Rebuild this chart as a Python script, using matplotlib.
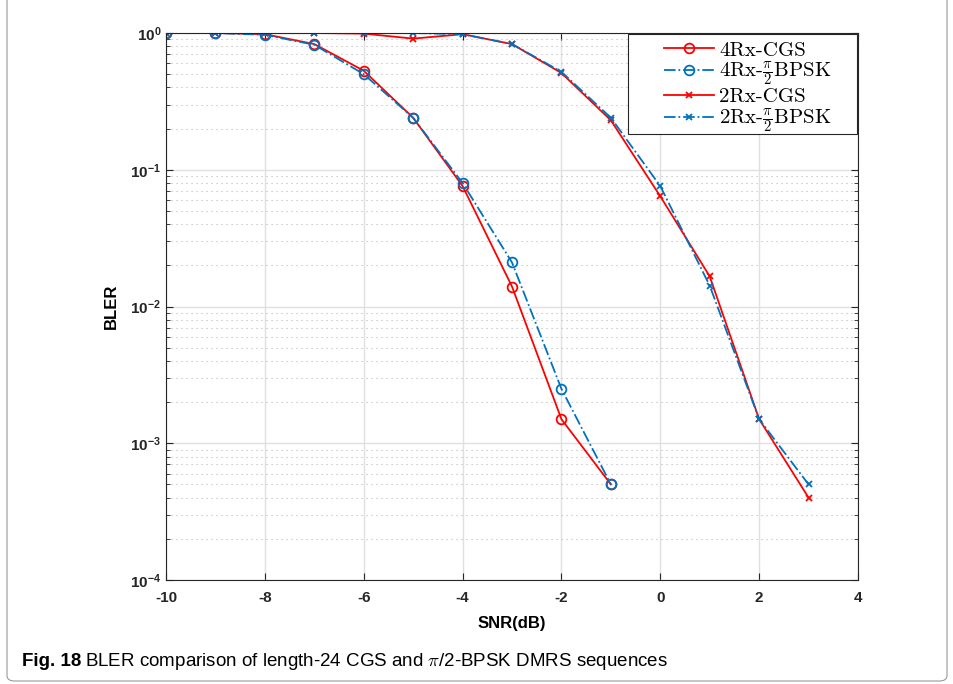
import matplotlib
matplotlib.use('Agg')
import matplotlib.pyplot as plt
import numpy as np
from matplotlib.ticker import LogLocator, FixedLocator, FuncFormatter, NullFormatter
from matplotlib.patches import FancyBboxPatch, Rectangle

plt.rcParams['mathtext.fontset'] = 'custom'
plt.rcParams['mathtext.rm'] = 'cmr10'
plt.rcParams['mathtext.it'] = 'cmmi10'
plt.rcParams['mathtext.bf'] = 'Liberation Sans:bold'
plt.rcParams['mathtext.fallback'] = 'cm'
plt.rcParams['axes.unicode_minus'] = False

# 数据
snr_4rx = [-10, -9, -8, -7, -6, -5, -4, -3, -2, -1]
bler_4rx_cgs = [1.0, 1.0, 0.98, 0.83, 0.53, 0.24, 0.076, 0.014, 0.0015, 0.0005]
bler_4rx_bpsk = [1.0, 1.0, 0.97, 0.82, 0.50, 0.24, 0.080, 0.021, 0.0025, 0.0005]

snr_2rx = [-10, -9, -8, -7, -6, -5, -4, -3, -2, -1, 0, 1, 2, 3]
bler_2rx_cgs = [1.0, 1.0, 1.0, 1.0, 0.99, 0.91, 0.98, 0.83, 0.51, 0.23, 0.064, 0.0166, 0.0015, 0.0004]
bler_2rx_bpsk = [1.0, 1.0, 1.0, 1.0, 1.0, 1.0, 0.98, 0.83, 0.52, 0.24, 0.076, 0.0142, 0.0015, 0.0005]

labels = ['4Rx-CGS', r'4Rx-$\frac{\pi}{2}$BPSK', '2Rx-CGS', r'2Rx-$\frac{\pi}{2}$BPSK']
xticks = [-10, -8, -6, -4, -2, 0, 2, 4]

red = (1, 0, 0)
blue = (0, 0.447, 0.741)

W, H = 954, 684
fig = plt.figure(figsize=(W / 100, H / 100), dpi=100)
ax = fig.add_axes([166 / W, 1 - 580 / H, (858 - 166) / W, (580 - 33) / H])

ax.semilogy(snr_4rx, bler_4rx_cgs, '-o', color=red, lw=1.3, ms=7, mfc='none', mew=1.3, label=labels[0])
ax.semilogy(snr_4rx, bler_4rx_bpsk, '-.o', color=blue, lw=1.3, ms=7, mfc='none', mew=1.3, label=labels[1])
ax.semilogy(snr_2rx, bler_2rx_cgs, '-x', color=red, lw=1.3, ms=5, mew=1.3, label=labels[2])
ax.semilogy(snr_2rx, bler_2rx_bpsk, '-.x', color=blue, lw=1.3, ms=5, mew=1.3, label=labels[3])

ax.set_xlim(-10, 4)
ax.set_ylim(1e-4, 1)
ax.xaxis.set_major_locator(FixedLocator(xticks))
ax.yaxis.set_major_locator(LogLocator(base=10, numticks=10))
ax.yaxis.set_minor_locator(LogLocator(base=10, subs=np.arange(2, 10), numticks=10))
ax.yaxis.set_minor_formatter(NullFormatter())
ax.yaxis.set_major_formatter(FuncFormatter(lambda v, p: r'$\mathbf{10^{%d}}$' % int(round(np.log10(v)))))
ax.xaxis.set_major_formatter(FuncFormatter(lambda v, p: '%d' % v))

for lab in ax.get_xticklabels():
    lab.set_fontweight('bold')
    lab.set_family('Liberation Sans')
ax.tick_params(axis='both', which='both', direction='in', top=True, right=True,
               labelsize=11, colors='0.15')
ax.tick_params(axis='x', pad=8)
ax.tick_params(which='major', length=5)
ax.tick_params(which='minor', length=3)

ax.grid(True, which='major', color='0.88', lw=1.0, ls='-')
ax.grid(True, which='minor', axis='y', color='0.72', lw=0.8, ls=(0, (1, 3.5)))
ax.set_axisbelow(True)
for s in ax.spines.values():
    s.set_color('0.15')
    s.set_linewidth(0.8)

ax.set_xlabel('SNR(dB)', fontsize=12, fontweight='bold', family='Liberation Sans', labelpad=8)
ax.set_ylabel('BLER', fontsize=12, fontweight='bold', family='Liberation Sans', labelpad=8)

# 图例：无边框，单独画方框
leg = ax.legend(loc='upper left', bbox_to_anchor=(664 / W, 1 - 41 / H),
                bbox_transform=fig.transFigure, frameon=False,
                prop={'family': 'cmr10', 'size': 15},
                handlelength=2.4, handletextpad=0.25, labelspacing=0.02, borderpad=0,
                borderaxespad=0)
leg.set_zorder(5)
frame = Rectangle((628 / W, 1 - 134 / H), (857 - 628) / W, 100 / H, transform=fig.transFigure,
                  facecolor='white', edgecolor='0.15', lw=0.8, zorder=4, clip_on=False)
ax.add_patch(frame)

# 图注
fig.text(22 / W, 1 - 661 / H, 'Fig. 18', fontsize=13.5, fontweight='bold',
         family='Liberation Sans', va='center')
fig.text(85 / W, 1 - 661 / H, r'BLER comparison of length-24 CGS and $\pi$/2-BPSK DMRS sequences',
         fontsize=13.5, family='Liberation Sans', va='center')

border = FancyBboxPatch((7 / W, 3 / H), 940 / W, 700 / H,
                        boxstyle='round,pad=0,rounding_size=0.008', transform=fig.transFigure,
                        fill=False, edgecolor='0.6', lw=0.8)
fig.patches.append(border)

fig.savefig('out.png', dpi=100)
